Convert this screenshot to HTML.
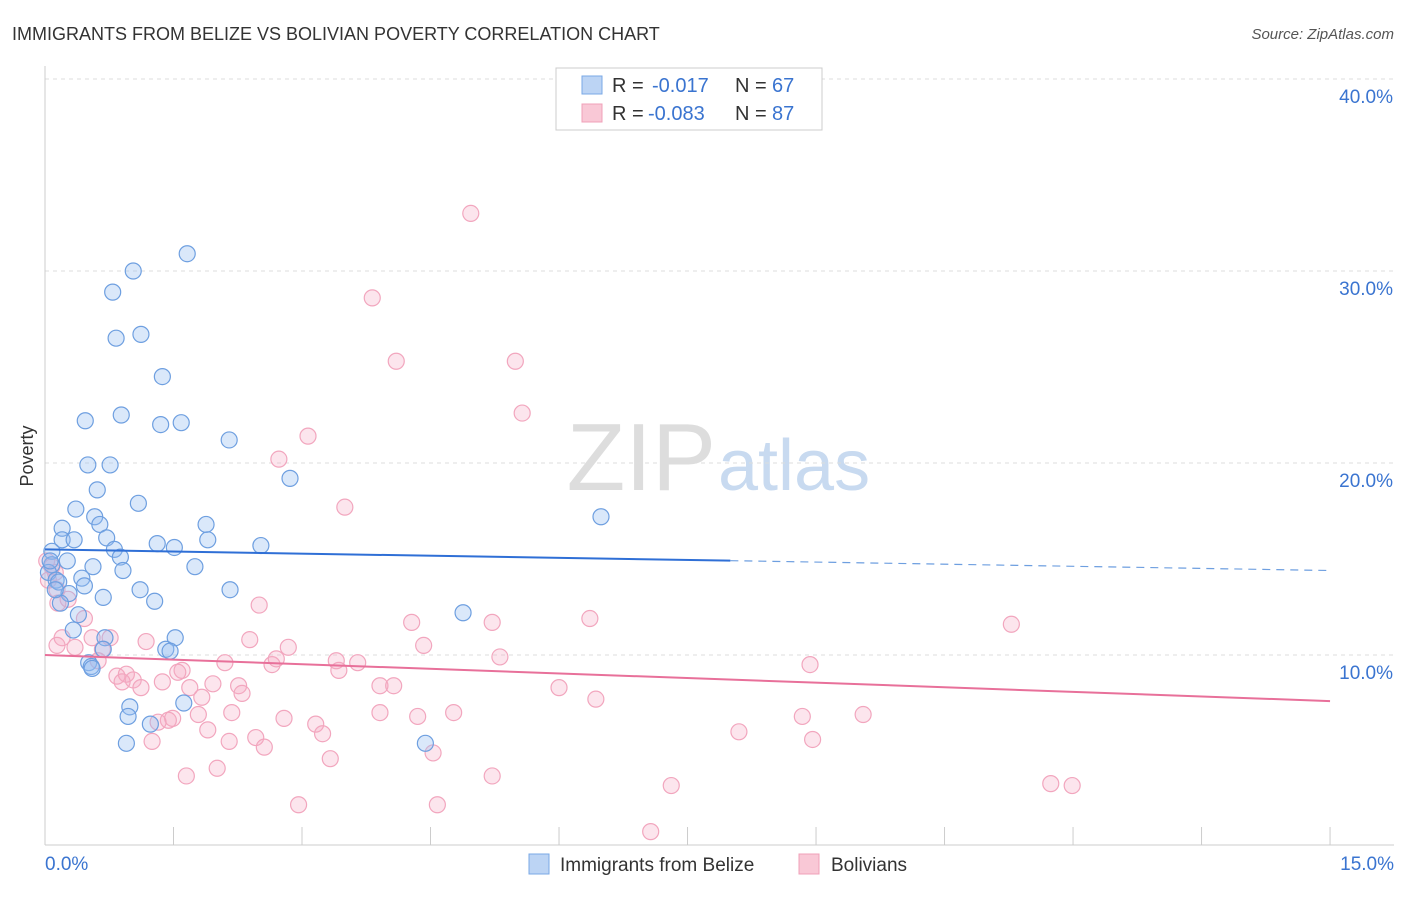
<!DOCTYPE html>
<html><head><meta charset="utf-8"><style>
body{margin:0;background:#fff;font-family:"Liberation Sans",sans-serif}
svg text{font-family:"Liberation Sans",sans-serif}
</style></head><body>
<svg id="c" width="1406" height="892">
<text x="12" y="40" font-size="18" fill="#333">IMMIGRANTS FROM BELIZE VS BOLIVIAN POVERTY CORRELATION CHART</text>
<text x="1394" y="39" font-size="15" fill="#555" font-style="italic" text-anchor="end">Source: ZipAtlas.com</text>
<text x="716" y="490" font-size="96" fill="#ddd" text-anchor="end" font-family="Liberation Serif">ZIP</text>
<text x="718" y="490" font-size="72" fill="#c8daf0">atlas</text>
<text transform="translate(33,456) rotate(-90)" font-size="18" fill="#333" text-anchor="middle">Poverty</text>
<g id="grid"></g><g id="pts"></g><g id="lines"></g>
<g>
<rect x="556" y="68" width="266" height="62" fill="#fff" stroke="#ccc"/>
<rect x="582" y="76" width="20" height="18" fill="#bcd4f4" stroke="#7aa8e6"/>
<rect x="582" y="104" width="20" height="18" fill="#f9c8d6" stroke="#f0a0b8"/>
<text y="92" font-size="20" fill="#333"><tspan x="612">R =</tspan><tspan x="652" fill="#3a74d0">-0.017</tspan><tspan x="735">N =</tspan><tspan x="772" fill="#3a74d0">67</tspan></text>
<text y="120" font-size="20" fill="#333"><tspan x="612">R =</tspan><tspan x="648" fill="#3a74d0">-0.083</tspan><tspan x="735">N =</tspan><tspan x="772" fill="#3a74d0">87</tspan></text>
</g>
<g>
<rect x="529" y="854" width="20" height="20" fill="#bcd4f4" stroke="#7aa8e6"/>
<text x="560" y="871" font-size="19" fill="#333">Immigrants from Belize</text>
<rect x="799" y="854" width="20" height="20" fill="#f9c8d6" stroke="#f0a0b8"/>
<text x="831" y="871" font-size="19" fill="#333">Bolivians</text>
</g>
</svg>
<script>
const xTicks=[0,1.5,3,4.5,6,7.5,9,10.5,12,13.5,15];
const yTicks=[10,20,30,40];
const blueX=[1.66,1.03,0.79,0.83,1.12,1.37,0.47,0.89,1.35,1.59,2.15,0.50,0.76,2.86,0.61,1.09,0.36,0.58,0.20,0.64,1.88,6.49,0.20,0.34,0.72,1.90,2.52,0.08,0.81,1.31,1.51,0.88,0.26,0.56,0.91,1.75,0.08,0.04,0.13,0.43,0.16,0.46,1.11,2.16,0.28,0.68,1.28,0.18,0.39,0.33,4.88,0.70,1.52,0.68,1.41,1.46,0.51,0.54,0.55,0.99,1.62,0.97,1.23,0.95,4.44,0.06,0.12];
const blueY=[30.9,30.0,28.9,26.5,26.7,24.5,22.2,22.5,22.0,22.1,21.2,19.9,19.9,19.2,18.6,17.9,17.6,17.2,16.6,16.8,16.8,17.2,16.0,16.0,16.1,16.0,15.7,15.4,15.5,15.8,15.6,15.1,14.9,14.6,14.4,14.6,14.7,14.3,13.9,14.0,13.8,13.6,13.4,13.4,13.2,13.0,12.8,12.7,12.1,11.3,12.2,10.9,10.9,10.3,10.3,10.2,9.6,9.4,9.3,7.3,7.5,6.8,6.4,5.4,5.4,14.9,13.4];
const pinkX=[4.97,3.82,4.10,5.49,5.57,3.07,2.73,3.50,0.02,0.08,0.12,0.04,0.14,0.27,0.15,0.46,0.20,0.76,0.55,0.14,0.35,0.67,1.18,0.62,2.50,2.39,2.84,4.28,4.42,5.22,6.36,11.28,5.31,3.40,3.65,2.10,2.65,2.70,1.60,1.55,0.84,0.95,1.03,1.37,1.12,0.90,1.96,2.26,2.30,1.69,1.83,3.43,3.91,4.07,6.00,6.43,8.93,1.90,1.79,1.49,1.44,1.32,2.18,2.79,3.16,3.24,3.91,4.35,4.77,8.10,8.84,9.55,8.96,1.25,2.15,2.46,2.56,4.53,1.65,2.01,3.33,5.22,2.96,4.58,7.31,11.74,11.99,7.07];
const pinkY=[33.0,28.6,25.3,25.3,22.6,21.4,20.2,17.7,14.9,14.6,14.3,13.9,13.4,12.9,12.7,11.9,10.9,10.9,10.9,10.5,10.4,10.3,10.7,9.7,12.6,10.8,10.4,11.7,10.5,11.7,11.9,11.6,9.9,9.7,9.6,9.6,9.5,9.8,9.2,9.1,8.9,9.0,8.7,8.6,8.3,8.6,8.5,8.4,8.0,8.3,7.8,9.2,8.4,8.4,8.3,7.7,9.5,6.1,6.9,6.7,6.6,6.5,7.0,6.7,6.4,5.9,7.0,6.8,7.0,6.0,6.8,6.9,5.6,5.5,5.5,5.7,5.2,4.9,3.7,4.1,4.6,3.7,2.2,2.2,3.2,3.3,3.2,0.8];
const blueTrend=[15.5,14.4];
const pinkTrend=[10.0,7.6];
const blueSolidEnd=8.0;
const X=v=>45+v*85.67, Y=v=>847-v*19.2;
const NS='http://www.w3.org/2000/svg';
function mk(t,a,p){const e=document.createElementNS(NS,t);for(const k in a)e.setAttribute(k,a[k]);p.appendChild(e);return e;}
const grid=document.getElementById('grid');
yTicks.forEach(v=>{
const l=mk('line',{x1:45,x2:1394,y1:Y(v),y2:Y(v),stroke:'#ddd','stroke-dasharray':'4,4'},grid);


const t=mk('text',{x:1393,y:Y(v)+24,'font-size':19,fill:'#3a74d0','text-anchor':'end'},grid);
t.textContent=v.toFixed(1)+'%';


});
mk('line',{x1:45,x2:1394,y1:845,y2:845,stroke:'#ccc'},grid);
mk('line',{x1:45,x2:45,y1:66,y2:845,stroke:'#ccc'},grid);
xTicks.forEach(v=>{
const l=mk('line',{x1:X(v),x2:X(v),y1:827,y2:845,stroke:'#ccc'},grid);


});
[[0,'start',45],[15,'end',1394]].forEach(([v,a,x])=>{
const t=mk('text',{x:x,y:870,'font-size':19,fill:'#3a74d0','text-anchor':a},grid);
t.textContent=v.toFixed(1)+'%';


});
const pts=document.getElementById('pts');
pinkX.forEach((x,i)=>{
const c=mk('circle',{cx:X(x),cy:Y(pinkY[i]),r:8,fill:'rgba(246,170,195,0.3)',stroke:'#f2a6be','stroke-width':1.2},pts);


});
blueX.forEach((x,i)=>{
const c=mk('circle',{cx:X(x),cy:Y(blueY[i]),r:8,fill:'rgba(150,190,240,0.35)',stroke:'#6e9fe0','stroke-width':1.2},pts);


});
const lines=document.getElementById('lines');
const bAt=x=>blueTrend[0]+(blueTrend[1]-blueTrend[0])*x/15;
let l1=mk('line',{x1:X(0),y1:Y(bAt(0)),x2:X(blueSolidEnd),y2:Y(bAt(blueSolidEnd)),stroke:'#2f6fd6','stroke-width':2},lines);


let l2=mk('line',{x1:X(blueSolidEnd),y1:Y(bAt(blueSolidEnd)),x2:X(15),y2:Y(bAt(15)),stroke:'#6e9fe0','stroke-width':1.2,'stroke-dasharray':'8,6'},lines);


let l3=mk('line',{x1:X(0),y1:Y(pinkTrend[0]),x2:X(15),y2:Y(pinkTrend[1]),stroke:'#e8709a','stroke-width':2},lines);


</script>
</body></html>
